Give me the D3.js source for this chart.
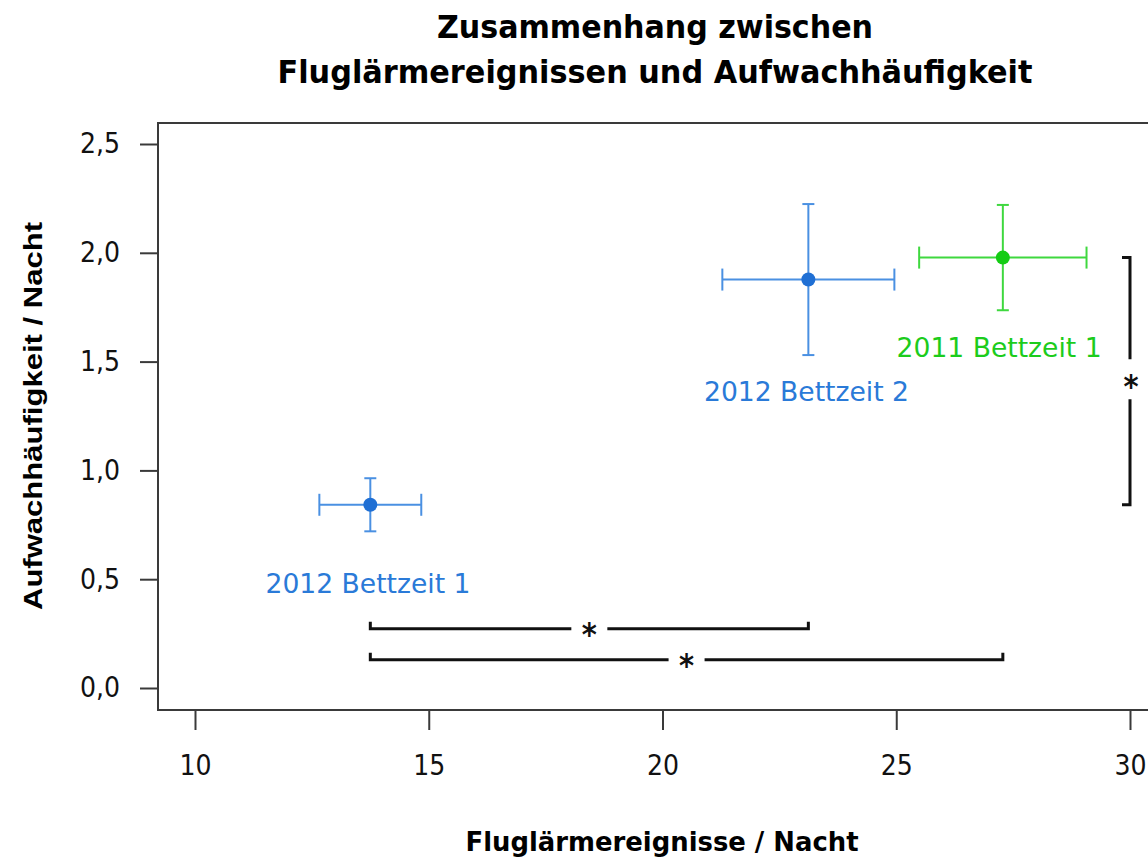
<!DOCTYPE html>
<html>
<head>
<meta charset="utf-8">
<script src="https://cdn.jsdelivr.net/npm/d3@7"></script>
<style>
  body { margin: 0; background: #fff; }
  svg { display: block; }
</style>
</head>
<body>
<div id="chart"></div>
<script>
// data
const groups = ["2012 Bettzeit 1", "2012 Bettzeit 2", "2011 Bettzeit 1"];
const meanX = [13.75, 23.12, 27.28];
const errX = [1.09, 1.84, 1.79];
const meanY = [0.842, 1.877, 1.978];
const errY = [0.122, 0.347, 0.242];
const labelX = [13.7, 23.08, 27.2];
const labelY = [0.437, 1.318, 1.521];
const groupColors = ["#1f6fd4", "#1f6fd4", "#14cc14"];
const barColors = ["#4a90e2", "#4a90e2", "#3fd83f"];

const xTicks = [10, 15, 20, 25, 30];
const yTicks = [0, 0.5, 1.0, 1.5, 2.0, 2.5];

// significance brackets (indices into groups)
const hPairs = [[0, 1], [0, 2]];
const hLevels = [0.272, 0.13];
const vPairs = [[2, 0]];
const vLevels = [30];

const W = 1148, H = 861;
const fontMain = "'DejaVu Sans Condensed', 'DejaVu Sans', sans-serif";

var x = d3.scaleLinear().domain([10, 30]).range([195, 1130]);
var y = d3.scaleLinear().domain([0, 2.5]).range([688, 144]);

var svg = d3.select("#chart").append("svg")
  .attr("width", W).attr("height", H);

// plot frame (right side runs off the picture)
const boxL = 158, boxT = 123, boxB = 710;
svg.append("rect")
  .attr("x", boxL).attr("y", boxT)
  .attr("width", W + 20 - boxL).attr("height", boxB - boxT)
  .attr("fill", "none").attr("stroke", "#3a3a3a").attr("stroke-width", 2);

const fmt = d => d3.format(".1f")(d).replace(".", ",");

var yAxis = svg.append("g")
  .attr("transform", "translate(" + boxL + ",0)")
  .call(d3.axisLeft(y).tickValues(yTicks).tickFormat(fmt).tickSize(18).tickPadding(20));
var xAxis = svg.append("g")
  .attr("transform", "translate(0," + boxB + ")")
  .call(d3.axisBottom(x).tickValues(xTicks).tickFormat(d3.format("d")).tickSize(20).tickPadding(25));

[yAxis, xAxis].forEach(ax => {
  ax.select(".domain").remove();
  ax.selectAll("line").attr("stroke", "#3a3a3a").attr("stroke-width", 2);
  ax.selectAll("text").attr("font-family", fontMain).attr("font-size", 28).attr("fill", "#111");
});

// title
const title = ["Zusammenhang zwischen", "Fluglärmereignissen und Aufwachhäufigkeit"];
const titleW = [436, 755];
svg.selectAll("text.title")
  .data(title).enter().append("text")
  .attr("class", "title")
  .attr("x", 655)
  .attr("y", (d, i) => 38 + i * 45)
  .attr("text-anchor", "middle")
  .attr("font-family", fontMain).attr("font-weight", "bold").attr("font-size", 32)
  .attr("textLength", (d, i) => titleW[i]).attr("lengthAdjust", "spacingAndGlyphs")
  .text(d => d);

// axis labels
svg.append("text")
  .attr("x", 662).attr("y", 851)
  .attr("text-anchor", "middle")
  .attr("font-family", fontMain).attr("font-weight", "bold").attr("font-size", 27)
  .attr("textLength", 393).attr("lengthAdjust", "spacingAndGlyphs")
  .text("Fluglärmereignisse / Nacht");

svg.append("text")
  .attr("transform", "translate(42,416) rotate(-90)")
  .attr("text-anchor", "middle")
  .attr("font-family", "'Liberation Sans', Arial, sans-serif").attr("font-weight", "bold").attr("font-size", 25)
  .attr("textLength", 388).attr("lengthAdjust", "spacingAndGlyphs")
  .text("Aufwachhäufigkeit / Nacht");

// error bars
const pts = groups.map((g, i) => ({g: g, i: i, mx: meanX[i], my: meanY[i], ex: errX[i], ey: errY[i]}));
var eb = svg.append("g").selectAll("g").data(pts).enter().append("g")
  .attr("stroke", d => barColors[d.i]).attr("stroke-width", 2).attr("fill", "none");

eb.append("line")
  .attr("x1", d => x(d.mx - d.ex)).attr("x2", d => x(d.mx + d.ex))
  .attr("y1", d => y(d.my)).attr("y2", d => y(d.my));
eb.append("line")
  .attr("x1", d => x(d.mx)).attr("x2", d => x(d.mx))
  .attr("y1", d => y(d.my - d.ey)).attr("y2", d => y(d.my + d.ey));
// caps
[-1, 1].forEach(s => {
  eb.append("line")
    .attr("x1", d => x(d.mx + s * d.ex)).attr("x2", d => x(d.mx + s * d.ex))
    .attr("y1", d => y(d.my) - 11).attr("y2", d => y(d.my) + 11);
  eb.append("line")
    .attr("x1", d => x(d.mx) - 6).attr("x2", d => x(d.mx) + 6)
    .attr("y1", d => y(d.my + s * d.ey)).attr("y2", d => y(d.my + s * d.ey));
});

svg.append("g").selectAll("circle").data(pts).enter().append("circle")
  .attr("cx", d => x(d.mx)).attr("cy", d => y(d.my))
  .attr("r", 7)
  .attr("fill", d => groupColors[d.i]);

// point labels
const labelColors = ["#2a7ad8", "#2a7ad8", "#1ccc1c"];
svg.append("g").selectAll("text").data(pts).enter().append("text")
  .attr("x", d => x(labelX[d.i])).attr("y", d => y(labelY[d.i]))
  .attr("text-anchor", "middle")
  .attr("font-family", fontMain).attr("font-size", 27)
  .attr("fill", d => labelColors[d.i])
  .attr("textLength", 205).attr("lengthAdjust", "spacingAndGlyphs")
  .text(d => d.g);

// significance brackets
var br = svg.append("g").attr("stroke", "#111").attr("stroke-width", 3).attr("fill", "none");
const gapH = 18;
hPairs.forEach((p, k) => {
  const x0 = x(meanX[p[0]]), x1 = x(meanX[p[1]]), yy = y(hLevels[k]);
  const mid = (x0 + x1) / 2;
  br.append("path").attr("d", `M${x0},${yy - 7}V${yy}H${mid - gapH}`);
  br.append("path").attr("d", `M${mid + gapH},${yy}H${x1}V${yy - 7}`);
  svg.append("text").attr("x", mid).attr("y", yy + 16)
    .attr("text-anchor", "middle").attr("font-family", fontMain)
    .attr("font-weight", "bold").attr("font-size", 32).attr("fill", "#111").text("*");
});
vPairs.forEach((p, k) => {
  const y0 = y(meanY[p[0]]), y1 = y(meanY[p[1]]), xx = x(vLevels[k]);
  const mid = (y0 + y1) / 2;
  br.append("path").attr("d", `M${xx - 8},${y0}H${xx}V${mid - 22}`);
  br.append("path").attr("d", `M${xx},${mid + 18}V${y1}H${xx - 8}`);
  svg.append("text").attr("x", xx + 1).attr("y", mid + 16)
    .attr("text-anchor", "middle").attr("font-family", fontMain)
    .attr("font-weight", "bold").attr("font-size", 32).attr("fill", "#111").text("*");
});
</script>
</body>
</html>
